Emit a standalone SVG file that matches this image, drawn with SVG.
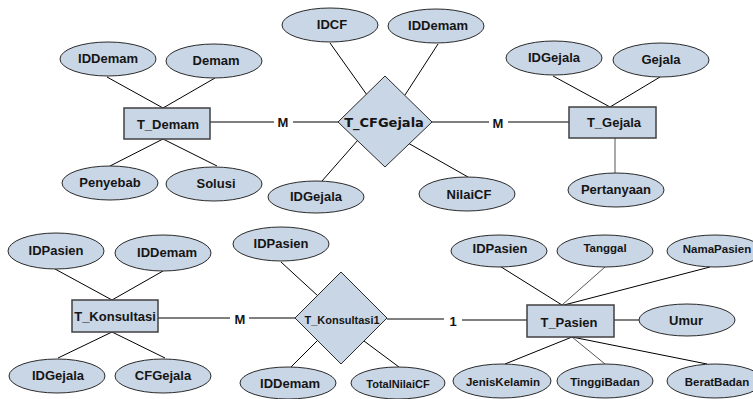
<svg xmlns="http://www.w3.org/2000/svg" width="753" height="399" viewBox="0 0 753 399">
<style>
.bg{fill:#ffffff}
ellipse{fill:#c9d6e6;stroke:#2a2a2a;stroke-width:1}
rect.ent{fill:#c9d6e6;stroke:#404040;stroke-width:1.5}
polygon.rel{fill:#c9d6e6;stroke:#2a2a2a;stroke-width:1}
text{font-family:"Liberation Sans",Arial,sans-serif;font-weight:bold;font-size:13px;fill:#151515;text-anchor:middle;dominant-baseline:central}
text.d{font-family:"DejaVu Sans",sans-serif;font-size:13px}
text.s{font-size:11px}
text.m{font-size:11.5px}
.c line{stroke:#000;stroke-width:1}
.c line.g{stroke:#555}
</style>
<rect class="bg" width="753" height="399"/>
<g id="connectors" class="c">
<line x1="107" y1="77" x2="163" y2="108"/>
<line x1="215" y1="78" x2="163" y2="108"/>
<line x1="163" y1="139" x2="110" y2="166"/>
<line x1="163" y1="139" x2="217" y2="166"/>
<line x1="210" y1="122" x2="274" y2="122"/>
<line x1="293" y1="122" x2="338" y2="122"/>
<line x1="330" y1="43" x2="367" y2="95"/>
<line x1="438" y1="44" x2="405" y2="95"/>
<line x1="358" y1="140" x2="322" y2="181"/>
<line x1="408" y1="143" x2="468" y2="177"/>
<line x1="432" y1="122" x2="489" y2="122"/>
<line x1="508" y1="122" x2="569" y2="122"/>
<line x1="553" y1="76" x2="610" y2="107"/>
<line x1="660" y1="77" x2="610" y2="107"/>
<line class="g" x1="615" y1="138" x2="615" y2="173"/>
<line x1="55" y1="269" x2="112" y2="300"/>
<line x1="163" y1="271" x2="112" y2="300"/>
<line x1="112" y1="332" x2="58" y2="358"/>
<line x1="112" y1="332" x2="165" y2="358"/>
<line x1="158" y1="318" x2="230" y2="318"/>
<line x1="249" y1="318" x2="295" y2="318"/>
<line x1="281" y1="262" x2="318" y2="296"/>
<line x1="318" y1="340" x2="291" y2="367"/>
<line x1="364" y1="341" x2="399" y2="367"/>
<line x1="387" y1="319" x2="444" y2="319"/>
<line x1="462" y1="320" x2="527" y2="320"/>
<line x1="498" y1="265" x2="562" y2="305"/>
<line class="g" x1="605" y1="267" x2="562" y2="305"/>
<line x1="710" y1="267" x2="564" y2="305"/>
<line x1="614" y1="320" x2="639" y2="320"/>
<line x1="572" y1="337" x2="505" y2="364"/>
<line class="g" x1="572" y1="337" x2="605" y2="364"/>
<line x1="572" y1="337" x2="707" y2="364"/>
</g>
<g id="labels">
<text x="283" y="122">M</text>
<text x="498" y="123">M</text>
<text x="240" y="319">M</text>
<text x="453" y="321">1</text>
</g>
<g id="T_Demam"><rect class="ent" x="124" y="108" width="86" height="31"/><text x="168" y="124">T_Demam</text></g>
<g id="a_Demam_IDDemam"><ellipse cx="108" cy="59" rx="48" ry="17"/><text x="108" y="58">IDDemam</text></g>
<g id="a_Demam_Demam"><ellipse cx="214" cy="61" rx="48" ry="17"/><text x="216" y="60">Demam</text></g>
<g id="a_Demam_Penyebab"><ellipse cx="110" cy="183" rx="48" ry="17"/><text x="110" y="182">Penyebab</text></g>
<g id="a_Demam_Solusi"><ellipse cx="214" cy="184" rx="48" ry="17"/><text x="216" y="183">Solusi</text></g>
<g id="T_CFGejala"><polygon class="rel" points="385,76 432,122 385,167 338,122"/><text class="d" x="384" y="122">T_CFGejala</text></g>
<g id="a_CF_IDCF"><ellipse cx="330" cy="25" rx="48" ry="17"/><text x="332" y="24">IDCF</text></g>
<g id="a_CF_IDDemam"><ellipse cx="436" cy="26" rx="48" ry="17"/><text x="438" y="25">IDDemam</text></g>
<g id="a_CF_IDGejala"><ellipse cx="316" cy="197" rx="48" ry="16"/><text x="316" y="196">IDGejala</text></g>
<g id="a_CF_NilaiCF"><ellipse cx="467" cy="194" rx="48" ry="17"/><text x="469" y="194">NilaiCF</text></g>
<g id="T_Gejala"><rect class="ent" x="569" y="107" width="87" height="31"/><text x="614" y="122">T_Gejala</text></g>
<g id="a_Gejala_IDGejala"><ellipse cx="554" cy="58" rx="48" ry="17"/><text x="554" y="57">IDGejala</text></g>
<g id="a_Gejala_Gejala"><ellipse cx="661" cy="60" rx="48" ry="17"/><text x="661" y="59">Gejala</text></g>
<g id="a_Gejala_Pertanyaan"><ellipse cx="616" cy="190" rx="48" ry="17"/><text x="616" y="189">Pertanyaan</text></g>
<g id="T_Konsultasi"><rect class="ent" x="72" y="300" width="86" height="32"/><text x="115" y="316">T_Konsultasi</text></g>
<g id="a_K_IDPasien"><ellipse cx="56" cy="251" rx="48" ry="18"/><text x="56" y="250">IDPasien</text></g>
<g id="a_K_IDDemam"><ellipse cx="163" cy="253" rx="48" ry="18"/><text x="167" y="252">IDDemam</text></g>
<g id="a_K_IDGejala"><ellipse cx="57" cy="376" rx="48" ry="17"/><text x="58" y="375">IDGejala</text></g>
<g id="a_K_CFGejala"><ellipse cx="163" cy="376" rx="48" ry="17"/><text x="163" y="375">CFGejala</text></g>
<g id="T_Konsultasi1"><polygon class="rel" points="341,272 387,318 341,364 295,318"/><text class="s" x="342" y="320">T_Konsultasi1</text></g>
<g id="a_K1_IDPasien"><ellipse cx="281" cy="244" rx="48" ry="17"/><text x="281" y="243">IDPasien</text></g>
<g id="a_K1_IDDemam"><ellipse cx="288" cy="383" rx="48" ry="16"/><text x="290" y="383">IDDemam</text></g>
<g id="a_K1_TotalNilaiCF"><ellipse cx="398" cy="383" rx="47" ry="16"/><text class="s" x="398" y="384">TotalNilaiCF</text></g>
<g id="T_Pasien"><rect class="ent" x="527" y="305" width="87" height="32"/><text x="569" y="322">T_Pasien</text></g>
<g id="a_P_IDPasien"><ellipse cx="499" cy="251" rx="48" ry="16"/><text x="500" y="248">IDPasien</text></g>
<g id="a_P_Tanggal"><ellipse cx="605" cy="251" rx="48" ry="16"/><text class="m" x="605" y="248">Tanggal</text></g>
<g id="a_P_NamaPasien"><ellipse cx="715" cy="251" rx="48" ry="16"/><text class="m" x="717" y="249">NamaPasien</text></g>
<g id="a_P_Umur"><ellipse cx="687" cy="320" rx="48" ry="16"/><text x="686" y="320">Umur</text></g>
<g id="a_P_JenisKelamin"><ellipse cx="502" cy="381" rx="49" ry="17"/><text class="m" x="503" y="382">JenisKelamin</text></g>
<g id="a_P_TinggiBadan"><ellipse cx="605" cy="381" rx="48" ry="17"/><text class="m" x="605" y="382">TinggiBadan</text></g>
<g id="a_P_BeratBadan"><ellipse cx="715" cy="381" rx="48" ry="17"/><text class="m" x="717" y="382">BeratBadan</text></g>
</svg>
